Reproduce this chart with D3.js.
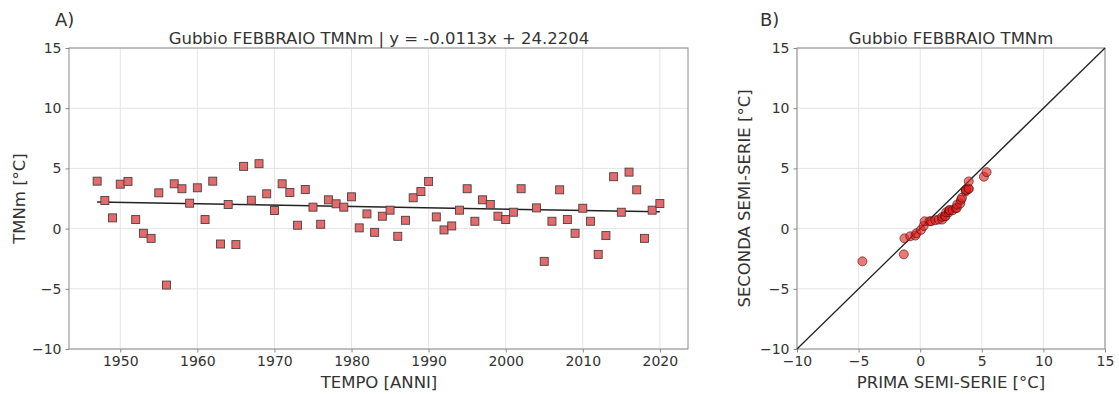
<!DOCTYPE html>
<html>
<head>
<meta charset="utf-8">
<script src="https://cdn.jsdelivr.net/npm/d3@7"></script>
<style>
  body { margin: 0; background: #fff; }
  svg text { font-family: "DejaVu Sans", sans-serif; fill: #333; }
</style>
</head>
<body>
<div id="chart"></div>
<script>
// annual february mean minimum temperature (2003 missing)
const years = [1947,1948,1949,1950,1951,1952,1953,1954,1955,1956,1957,1958,1959,1960,
  1961,1962,1963,1964,1965,1966,1967,1968,1969,1970,1971,1972,1973,1974,1975,1976,
  1977,1978,1979,1980,1981,1982,1983,1984,1985,1986,1987,1988,1989,1990,1991,1992,
  1993,1994,1995,1996,1997,1998,1999,2000,2001,2002,2004,2005,2006,2007,2008,2009,
  2010,2011,2012,2013,2014,2015,2016,2017,2018,2019,2020]
const tmnm = [3.94,2.33,0.89,3.69,3.92,0.75,-0.39,-0.81,2.97,-4.69,3.72,3.31,2.11,3.39,
  0.75,3.94,-1.28,2.00,-1.33,5.17,2.36,5.39,2.89,1.50,3.72,3.00,0.28,3.25,1.78,0.36,
  2.39,2.06,1.78,2.64,0.06,1.22,-0.31,1.03,1.53,-0.64,0.69,2.56,3.08,3.92,0.97,-0.11,
  0.22,1.53,3.31,0.61,2.39,2.00,1.03,0.75,1.36,3.31,1.72,-2.72,0.61,3.22,0.75,-0.39,
  1.69,0.61,-2.14,-0.58,4.31,1.36,4.69,3.22,-0.81,1.53,2.08]

// trend line from the title
const slope = -0.0113
const intercept = 24.2204

// sorted semi-series (quantile pairs)
const primaSemi = [-4.69,-1.33,-1.28,-0.81,-0.39,-0.31,0.06,0.28,0.36,0.75,0.89,1.22,
  1.50,1.78,1.78,2.00,2.06,2.11,2.33,2.36,2.39,2.64,2.89,2.97,3.00,3.25,3.31,3.39,
  3.69,3.72,3.72,3.92,3.94,3.94,5.17,5.39]
const secondaSemi = [-2.72,-2.14,-0.81,-0.64,-0.58,-0.39,-0.11,0.22,0.61,0.61,0.61,0.69,
  0.75,0.75,0.97,1.03,1.03,1.36,1.36,1.53,1.53,1.53,1.69,1.72,2.00,2.08,2.39,2.56,
  3.08,3.22,3.22,3.31,3.31,3.92,4.31,4.69]

const yearTicks = [1950,1960,1970,1980,1990,2000,2010,2020]
const tempTicks = [-10,-5,0,5,10,15]

const width = 1119
const height = 394

let svg = d3.select("#chart")
  .append("svg")
  .attr("width", width)
  .attr("height", height)

const plotTop = 48, plotBottom = 349
const y = d3.scaleLinear().domain([-10, 15]).range([plotBottom, plotTop])
const minus = d => d < 0 ? "\u2212" + (-d) : d

// draws a frame with grid and ticks
function drawFrame(x, xTicks, xFormat) {
  let g = svg.append("g")
  // grid
  g.selectAll(".gx").data(xTicks).join("line")
    .attr("x1", d => x(d)).attr("x2", d => x(d))
    .attr("y1", plotTop).attr("y2", plotBottom)
    .attr("stroke", "#e4e4e4")
  g.selectAll(".gy").data(tempTicks).join("line")
    .attr("x1", x.range()[0]).attr("x2", x.range()[1])
    .attr("y1", d => y(d)).attr("y2", d => y(d))
    .attr("stroke", "#e4e4e4")

  let xAxis = g.append("g")
    .attr("transform", "translate(0," + plotBottom + ")")
    .call(d3.axisBottom(x).tickValues(xTicks).tickFormat(xFormat).tickSize(3.5).tickPadding(4))
  let yAxis = g.append("g")
    .attr("transform", "translate(" + x.range()[0] + ",0)")
    .call(d3.axisLeft(y).tickValues(tempTicks).tickFormat(minus).tickSize(3.5).tickPadding(4))
  for (const a of [xAxis, yAxis]) {
    a.select(".domain").remove()
    a.selectAll("line").attr("stroke", "#888")
    a.selectAll("text").attr("font-size", 14).attr("fill", "#333")
      .attr("font-family", "DejaVu Sans, sans-serif")
  }
  g.append("rect")
    .attr("x", x.range()[0]).attr("y", plotTop)
    .attr("width", x.range()[1] - x.range()[0]).attr("height", plotBottom - plotTop)
    .attr("fill", "none").attr("stroke", "#8a8a8a").attr("stroke-width", 1)
  return g
}

// ---- chart A ----
const xA = d3.scaleLinear().domain([1943.35, 2023.65]).range([69, 688])
drawFrame(xA, yearTicks, d3.format("d"))

svg.append("line")
  .attr("x1", xA(years[0])).attr("y1", y(slope * years[0] + intercept))
  .attr("x2", xA(years[years.length - 1])).attr("y2", y(slope * years[years.length - 1] + intercept))
  .attr("stroke", "#222").attr("stroke-width", 1.5)

const sq = 8
svg.append("g").selectAll("rect").data(years).join("rect")
  .attr("x", (d, i) => xA(d) - sq / 2)
  .attr("y", (d, i) => y(tmnm[i]) - sq / 2)
  .attr("width", sq).attr("height", sq)
  .attr("fill", "#e46a6b")
  .attr("stroke", "#4a4040").attr("stroke-width", 0.9)

svg.append("text").attr("x", 379).attr("y", 44).attr("text-anchor", "middle")
  .attr("font-size", 16.5).text("Gubbio FEBBRAIO TMNm | y = -0.0113x + 24.2204")
svg.append("text").attr("x", 379).attr("y", 388).attr("text-anchor", "middle")
  .attr("font-size", 16.5).text("TEMPO [ANNI]")
svg.append("text").attr("transform", "translate(25," + (plotTop + plotBottom) / 2 + ") rotate(-90)")
  .attr("text-anchor", "middle").attr("font-size", 16.5).text("TMNm [°C]")
svg.append("text").attr("x", 55).attr("y", 26).attr("font-size", 18).text("A)")

// ---- chart B ----
const xB = d3.scaleLinear().domain([-10, 15]).range([797, 1105])
drawFrame(xB, tempTicks, minus)

svg.append("line")
  .attr("x1", xB(-10)).attr("y1", y(-10))
  .attr("x2", xB(15)).attr("y2", y(15))
  .attr("stroke", "#222").attr("stroke-width", 1.3)

svg.append("g").selectAll("circle").data(primaSemi).join("circle")
  .attr("cx", d => xB(d))
  .attr("cy", (d, i) => y(secondaSemi[i]))
  .attr("r", 4.5)
  .attr("fill", "rgba(225,30,30,0.6)")
  .attr("stroke", "rgba(70,10,10,0.6)").attr("stroke-width", 1)

svg.append("text").attr("x", 951).attr("y", 44).attr("text-anchor", "middle")
  .attr("font-size", 16.5).text("Gubbio FEBBRAIO TMNm")
svg.append("text").attr("x", 951).attr("y", 388).attr("text-anchor", "middle")
  .attr("font-size", 16.5).text("PRIMA SEMI-SERIE [°C]")
svg.append("text").attr("transform", "translate(750," + (plotTop + plotBottom) / 2 + ") rotate(-90)")
  .attr("text-anchor", "middle").attr("font-size", 16.5).text("SECONDA SEMI-SERIE [°C]")
svg.append("text").attr("x", 760).attr("y", 26).attr("font-size", 18).text("B)")
</script>
</body>
</html>
